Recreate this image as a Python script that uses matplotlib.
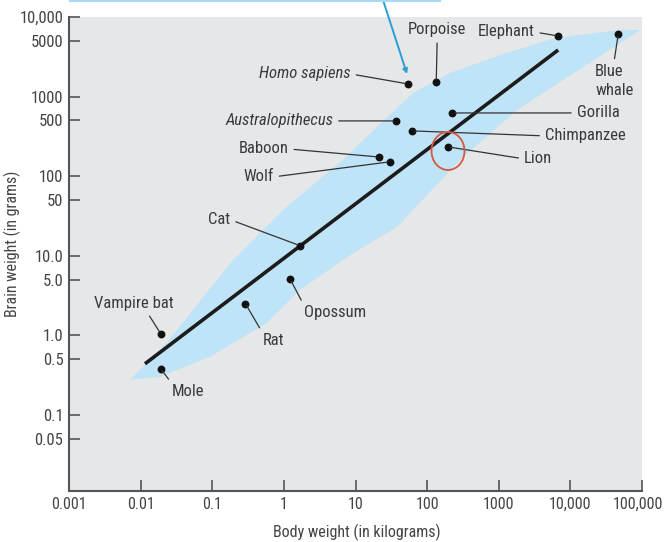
import matplotlib
matplotlib.use('Agg')
import matplotlib.pyplot as plt
from matplotlib.patches import Polygon, Ellipse
from matplotlib.lines import Line2D
from matplotlib import font_manager
from matplotlib.transforms import ScaledTranslation

# ---------------- data ----------------
animals = ["Vampire bat", "Mole", "Rat", "Opossum", "Cat", "Wolf", "Baboon",
           "Australopithecus", "Homo sapiens", "Porpoise", "Elephant",
           "Blue whale", "Gorilla", "Chimpanzee", "Lion"]
body_kg = [0.019, 0.019, 0.29, 1.22, 1.7, 30, 21, 37, 54, 134, 6760,
           46600, 223, 62, 196]
brain_g = [1.05, 0.38, 2.5, 5.1, 13.3, 151, 174, 494, 1440, 1525, 5770,
           6110, 622, 370, 233]

# shaded band (outline)
band_x = [0.0071, 0.0219, 0.195, 0.975, 6.7, 20, 64, 210, 1050, 6140, 49600,
          94400, 15100, 1810, 318, 38, 8.4, 1.68, 0.58, 0.093, 0.0187]
band_y = [0.275, 0.757, 8.86, 37.6, 160, 415, 1110, 1980, 3330, 5450, 6870,
          6870, 2350, 679, 174, 23, 10.2, 3.72, 1.43, 0.536, 0.30]

# regression line end points
fit_x = [0.0115, 6760]
fit_y = [0.437, 3850]

x_ticks = [0.001, 0.01, 0.1, 1, 10, 100, 1000, 10000, 100000]
x_ticklabels = ["0.001", "0.01", "0.1", "1", "10", "100", "1000", "10,000", "100,000"]
y_ticks = [0.05, 0.1, 0.5, 1, 5, 10, 50, 100, 500, 1000, 5000, 10000]
y_ticklabels = ["0.05", "0.1", "0.5", "1.0", "5.0", "10.0", "50", "100", "500",
                "1000", "5000", "10,000"]

# ---------------- style ----------------
names = {f.name for f in font_manager.fontManager.ttflist}
if 'Roboto Condensed' in names:
    main_font, FS, LFS = 'Roboto Condensed', 12, 11.5
elif 'Liberation Sans Narrow' in names:
    main_font, FS, LFS = 'Liberation Sans Narrow', 12, 11.5
else:
    main_font, FS, LFS = 'Liberation Sans', 10.5, 10.5
plt.rcParams['font.family'] = [main_font, 'DejaVu Sans']

TXT = '#3a3a3a'
AX = '#555555'

fig = plt.figure(figsize=(6.65, 5.42), dpi=100)
fig.patch.set_facecolor('white')
ax = fig.add_axes([69/665, 1-491/542, (642-69)/665, (491-17)/542])
ax.set_facecolor('#e6e7e9')
ax.set_xscale('log')
ax.set_yscale('log')
ax.set_xlim(0.001, 100000)
ax.set_ylim(0.011, 10000)

ax.add_patch(Polygon(list(zip(band_x, band_y)), closed=True,
                     facecolor='#bfe3f7', edgecolor='none', zorder=1))
ax.plot(fit_x, fit_y, color='#1c1c1c', lw=2.6, solid_capstyle='butt', zorder=3)
ax.scatter(body_kg, brain_g, s=32, color='#111111', zorder=4, linewidths=0)

# label layout: offset (pixels) of text centre from point, relpos of leader start
layout = {
    "Vampire bat": (-27, 30, 'center', (0.66, 0.0)),
    "Mole": (27, -23, 'center', (0.03, 1.0)),
    "Rat": (28, -37, 'center', (0.0, 1.0)),
    "Opossum": (45, -34, 'center', (0.0, 1.0)),
    "Cat": (-81, 26, 'center', (1.0, 0.5)),
    "Wolf": (-131, -15, 'center', (1.0, 0.5)),
    "Baboon": (-115, 8, 'center', (1.0, 0.5)),
    "Australopithecus": (-117, 0, 'center', (1.0, 0.5)),
    "Homo sapiens": (-103, 10, 'center', (1.0, 0.5)),
    "Porpoise": (1, 52, 'center', (0.5, 0.0)),
    "Elephant": (-52, 4, 'center', (1.0, 0.5)),
    "Blue whale": (-23, -47, 'left', (0.48, 1.0)),
    "Gorilla": (146, 0, 'center', (0.0, 0.5)),
    "Chimpanzee": (173, -5, 'center', (0.0, 0.5)),
    "Lion": (90, -12, 'center', (0.0, 0.5)),
}
italic = {"Australopithecus", "Homo sapiens"}

for name, bx, by in zip(animals, body_kg, brain_g):
    dx, dy, ha, rel = layout[name]
    label = "Blue\nwhale" if name == "Blue whale" else name
    ax.annotate(label, xy=(bx, by), xytext=(dx, dy), textcoords='offset pixels',
                ha=ha, va='center', fontsize=FS, color=TXT,
                style='italic' if name in italic else 'normal',
                linespacing=1.3, zorder=5,
                arrowprops=dict(arrowstyle='-', color='#333333', lw=0.9,
                                shrinkA=2, shrinkB=2, relpos=rel))

# red hand-drawn circle round Lion
fig.patches.append(Ellipse((448/665, 1-151/542), 33/665, 38/542, angle=0,
                           transform=fig.transFigure, fill=False,
                           edgecolor='#d9573f', lw=1.3, zorder=6))

# blue call-out line from off-image box
ax.annotate('', xy=(407/665, 1-74/542), xycoords='figure fraction',
            xytext=(383/665, 1.0), textcoords='figure fraction',
            arrowprops=dict(arrowstyle='-|>', color='#2a9fd6', lw=1.4,
                            mutation_scale=7, shrinkA=0, shrinkB=0), zorder=7)
fig.lines.append(Line2D([70/665, 440/665], [0.999, 0.999], transform=fig.transFigure,
                        color='#a8d8f2', lw=1.5))

# axes styling
for s in ['top', 'right']:
    ax.spines[s].set_visible(False)
for s in ['left', 'bottom']:
    ax.spines[s].set_color(AX)
    ax.spines[s].set_linewidth(1.5)
ax.set_xticks(x_ticks)
ax.set_xticklabels(x_ticklabels)
ax.set_yticks(y_ticks)
ax.set_yticklabels(y_ticklabels)
ax.minorticks_off()
ax.tick_params(direction='in', length=8, width=1.2, color=AX, pad=4,
               labelsize=FS, labelcolor='#444444')
ax.tick_params(axis='x', labelsize=FS - 0.5)
# nudge the last x tick label so it stays inside the picture
last = ax.get_xticklabels()[-1]
last.set_transform(last.get_transform() + ScaledTranslation(-4/100, 0, fig.dpi_scale_trans))

ax.set_xlabel("Body weight (in kilograms)", fontsize=LFS, color='#444444')
ax.set_ylabel("Brain weight (in grams)", fontsize=LFS, color='#444444')
ax.xaxis.set_label_coords((357-69)/573, -(532-491)/474)
ax.xaxis.label.set_va('center')
ax.yaxis.set_label_coords(-(69-12)/573, (491-244)/474)
ax.yaxis.label.set_va('center')

fig.savefig('out.png', dpi=100, facecolor='white')
